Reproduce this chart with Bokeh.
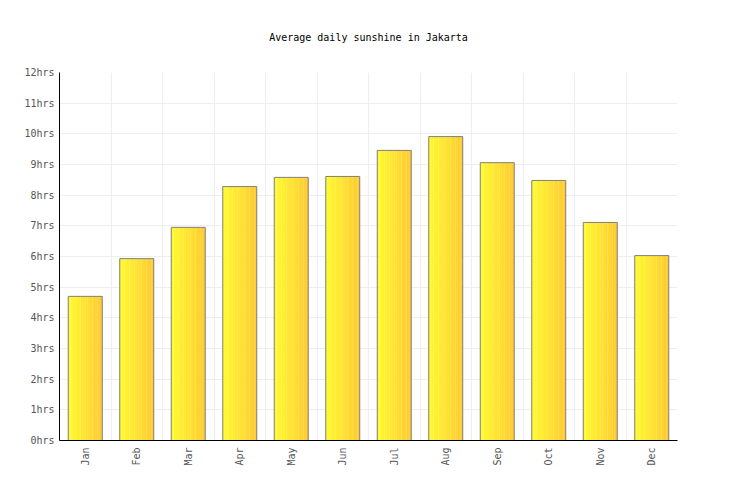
import numpy as np
from bokeh.plotting import figure
from bokeh.models import FixedTicker, PrintfTickFormatter, CustomJSTickFormatter, Range1d, ColumnDataSource, Title
from bokeh.transform import dodge
from bokeh.embed import file_html
from bokeh.resources import INLINE

title_text = "Average daily sunshine in Jakarta"
months = ["Jan", "Feb", "Mar", "Apr", "May", "Jun", "Jul", "Aug", "Sep", "Oct", "Nov", "Dec"]
sunshine = [4.7, 5.93, 6.95, 8.28, 8.58, 8.61, 9.46, 9.91, 9.06, 8.48, 7.11, 6.03]
y_ticks = list(range(0, 13))

idx = [i + 0.5 for i in range(len(months))]
src = ColumnDataSource(dict(x=idx, top=sunshine, m=months))

p = figure(width=720, height=484, output_backend="svg", toolbar_location=None,
           x_range=Range1d(0, 12), y_range=Range1d(0, 12),
           min_border_left=59, min_border_right=43, min_border_top=0, min_border_bottom=44)
p.outline_line_color = None
p.background_fill_color = "white"

p.title = Title(text=title_text, align="center", vertical_align="bottom",
                text_font="DejaVu Sans Mono", text_font_size="10px",
                text_font_style="normal", text_color="#000000", standoff=29)
p.title.padding = 15

bar_w = 0.66
n = 14
c0 = np.array([255, 250, 48])
c1 = np.array([255, 204, 51])
sw = bar_w / n
for k in range(n):
    t = k / (n - 1)
    c = (c0 * (1 - t) + c1 * t).astype(int)
    col = "#%02x%02x%02x" % tuple(c)
    off = -bar_w / 2 + sw * (k + 0.5)
    p.vbar(x=dodge("x", off, range=p.x_range), top="top", bottom=0, width=sw * 1.08,
           source=src, fill_color=col, line_color=None)
p.vbar(x="x", top="top", bottom=0, width=bar_w, source=src,
       fill_color=None, line_color="#7f7f7f", line_width=1)

p.xgrid.ticker = FixedTicker(ticks=list(range(0, 13)))
p.xgrid.grid_line_color = "#eeeeee"
p.ygrid.grid_line_color = "#eeeeee"
p.ygrid.ticker = FixedTicker(ticks=y_ticks)

p.xaxis.ticker = FixedTicker(ticks=idx)
p.xaxis.formatter = CustomJSTickFormatter(args=dict(labels=months),
                                          code="return labels[Math.floor(tick)];")
p.xaxis.major_label_orientation = np.pi / 2
p.yaxis.ticker = FixedTicker(ticks=y_ticks)
p.yaxis.formatter = PrintfTickFormatter(format="%dhrs")

for ax in (p.xaxis[0], p.yaxis[0]):
    ax.axis_line_color = "#000000"
    ax.axis_line_width = 1
    ax.major_tick_line_color = None
    ax.minor_tick_line_color = None
    ax.major_tick_out = 0
    ax.major_tick_in = 0
    ax.major_label_text_font = "DejaVu Sans Mono"
    ax.major_label_text_font_size = "10px"
    ax.major_label_text_color = "#555555"
p.yaxis.major_label_standoff = 5
p.xaxis.major_label_standoff = 7

open("out.html", "w").write(file_html(p, INLINE))
